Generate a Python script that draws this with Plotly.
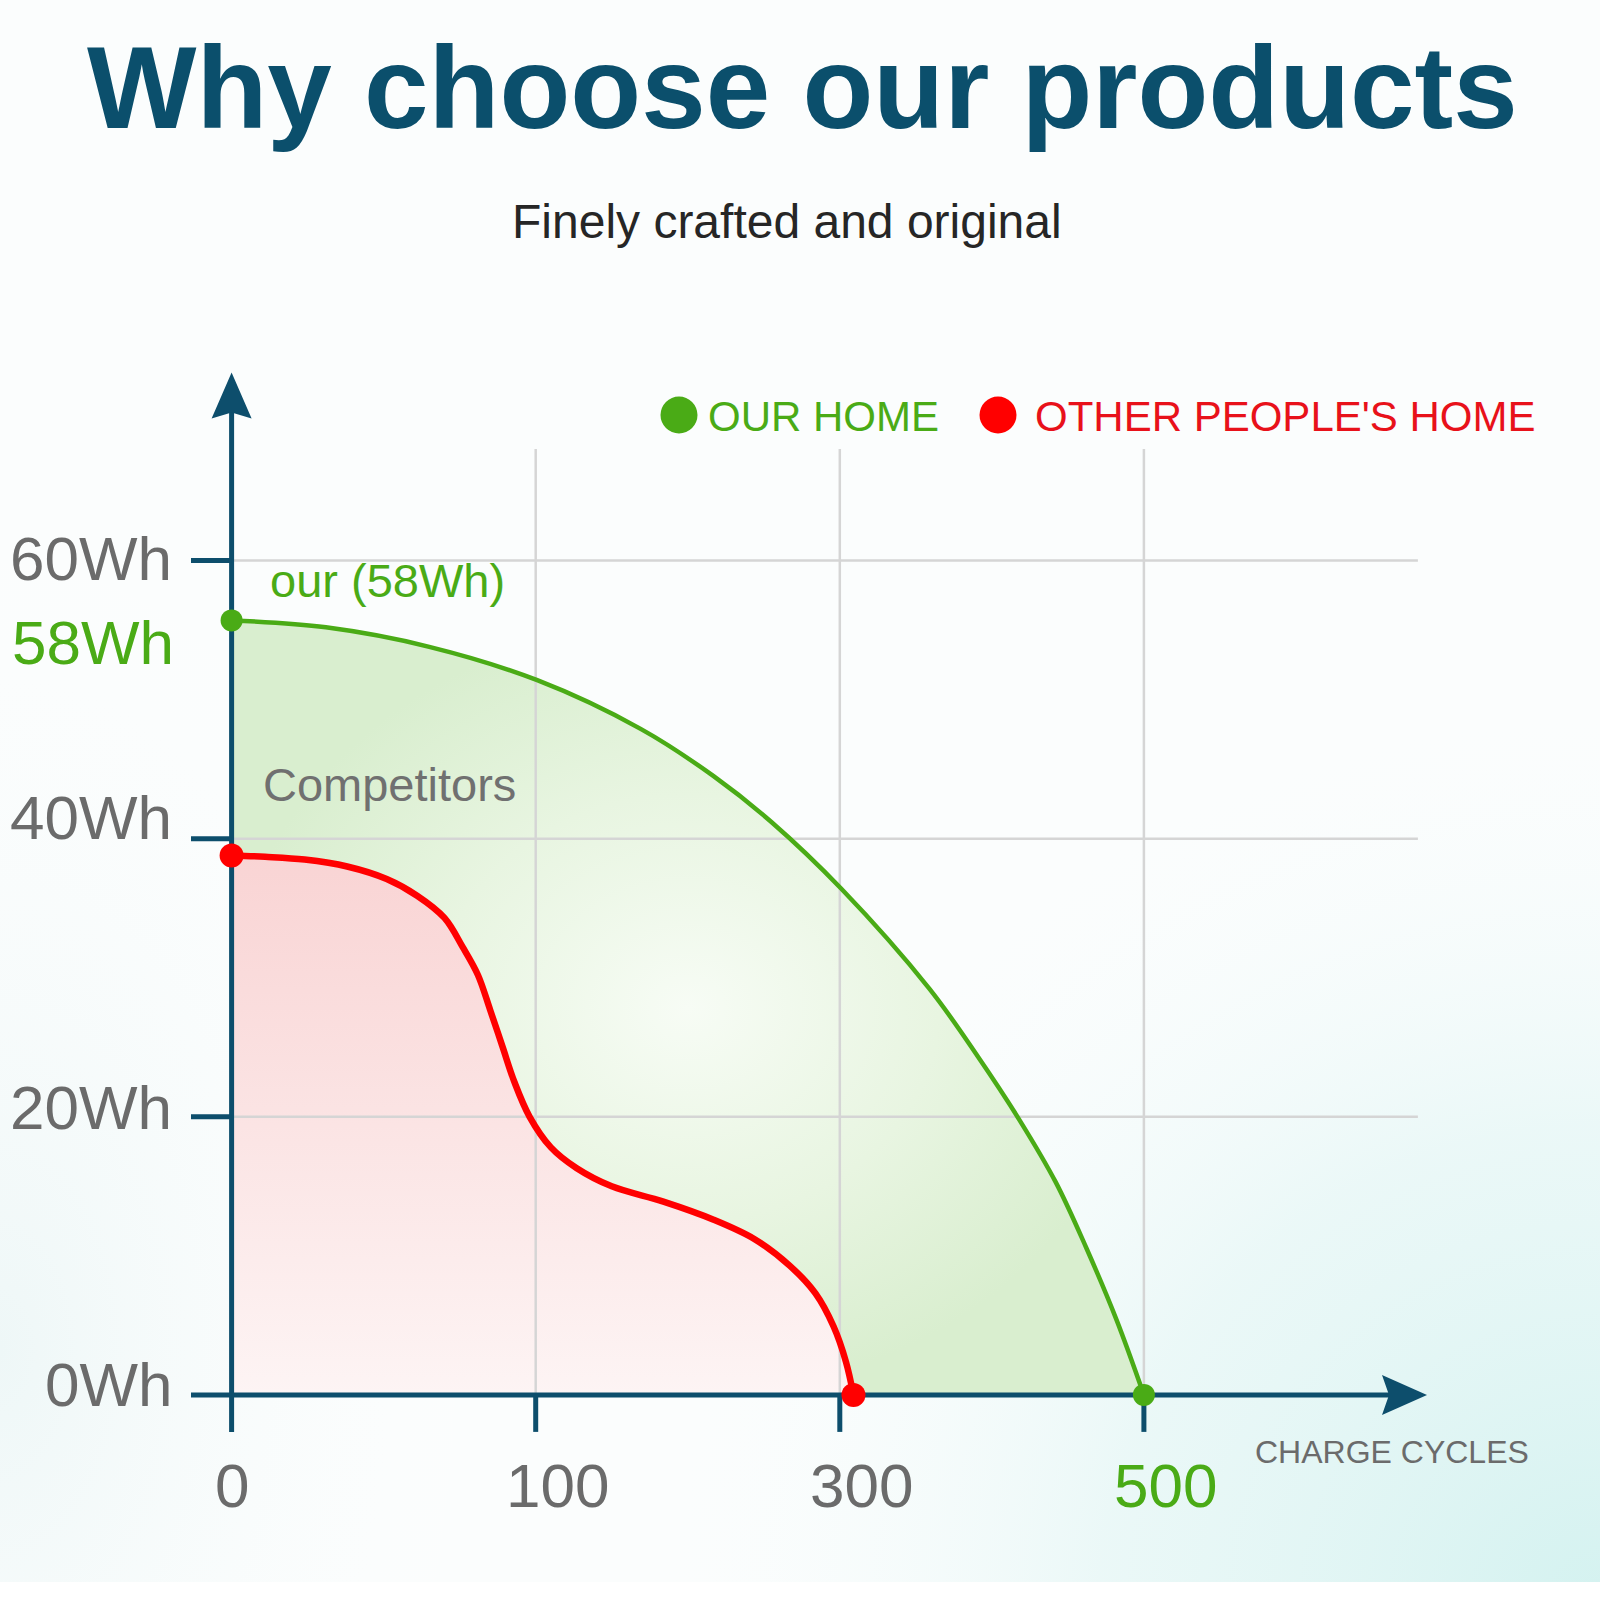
import numpy as np
import plotly.graph_objects as go

# ---------------- data ----------------
tick_cycles = [0, 100, 300, 500]
tick_cycle_labels = ["0", "100", "300", "500"]
wh_ticks = [0, 20, 40, 60]
wh_tick_labels = ["0Wh", "20Wh", "40Wh", "60Wh"]

our_cycles = [0, 31, 65, 101, 169, 217, 255, 301, 359, 391, 418, 442, 462, 482, 500]
our_wh = [55.7, 55.2, 53.8, 51.4, 47.9, 44.5, 41.2, 36.4, 29.2, 24.3, 19.8, 15.3, 10.6, 5.4, 0.0]

other_cycles = [0, 11, 24, 38, 51, 61, 70, 76, 81, 85, 89, 93, 98, 110, 127, 150,
                184, 217, 244, 267, 284, 296, 304, 309]
other_wh = [38.8, 38.7, 38.5, 38.0, 37.1, 35.9, 34.3, 32.2, 30.2, 27.7, 25.1, 22.5, 20.0, 17.8, 16.3, 15.0,
            13.9, 12.6, 11.2, 9.3, 7.3, 4.9, 2.4, 0.0]

# ---------------- geometry (pixel mapping of the page) ----------------
W = H = 1600
X0_PX, X_UNIT = 231.6, 304.1      # pixel of axis origin, pixels per tick slot
Y0_PX, Y_UNIT = 1394.9, 13.905    # pixel of 0Wh, pixels per Wh
xr = [-X0_PX / X_UNIT, (W - X0_PX) / X_UNIT]
yr = [(Y0_PX - H) / Y_UNIT, Y0_PX / Y_UNIT]

# vertical nudges (px) of the y tick labels, per label
YLABEL_SHIFT = {0: 10, 20: 9, 40: 21, 60: 2}


def pos(c):
    """cycles -> slot position on the (non-uniform) category-like x axis"""
    return np.interp(c, tick_cycles, np.arange(len(tick_cycles)))


def dx(p):
    return p / X_UNIT


def dy(p):
    return p / Y_UNIT


def px(x):
    return x / W


def py(y):
    return 1 - y / H


AXIS = "#0d4e6c"
GREEN = "#4aab16"
RED = "#ff0000"
GRID = "#d5d5d5"
GRAY = "#6b6b6b"
FONT = "Liberation Sans, Arial, sans-serif"
SPLINE = dict(shape="spline", smoothing=1.0, simplify=False)

fig = go.Figure()

# background glows
cx, cy = xr[1], yr[0]
hw, hh = dx(1000), dy(950)
fig.add_trace(go.Scatter(
    x=[cx - hw, cx + hw, cx + hw, cx - hw, cx - hw],
    y=[cy - hh, cy - hh, cy + hh, cy + hh, cy - hh],
    mode="none", fill="toself", hoverinfo="skip",
    fillgradient=dict(type="radial",
                      colorscale=[[0, "rgba(212,242,240,1)"], [0.5, "rgba(228,246,245,0.7)"],
                                  [1, "rgba(255,255,255,0)"]]),
))
cx, cy = xr[0], yr[0] + dy(250)
hw, hh = dx(520), dy(900)
fig.add_trace(go.Scatter(
    x=[cx - hw, cx + hw, cx + hw, cx - hw, cx - hw],
    y=[cy - hh, cy - hh, cy + hh, cy + hh, cy - hh],
    mode="none", fill="toself", hoverinfo="skip",
    fillgradient=dict(type="radial",
                      colorscale=[[0, "rgba(238,247,247,1)"], [1, "rgba(255,255,255,0)"]]),
))

# area fills
fig.add_trace(go.Scatter(
    x=pos(our_cycles), y=our_wh, mode="lines",
    line=dict(width=0, color=GREEN, **SPLINE),
    fill="tozeroy", hoverinfo="skip",
    fillgradient=dict(type="radial",
                      colorscale=[[0, "rgba(247,252,245,1)"], [0.55, "rgba(232,245,225,1)"],
                                  [1, "rgba(217,238,207,1)"]]),
))
fig.add_trace(go.Scatter(
    x=pos(other_cycles), y=other_wh, mode="lines",
    line=dict(width=0, color=RED, **SPLINE),
    fill="tozeroy", hoverinfo="skip",
    fillgradient=dict(type="vertical",
                      colorscale=[[0, "rgba(253,244,244,1)"], [1, "rgba(249,212,212,1)"]]),
))

# grid lines
gx, gy = [], []
for v in wh_ticks[1:]:
    gx += [0, pos(tick_cycles[-1]) + dx(274), None]
    gy += [v, v, None]
for c in tick_cycles[1:]:
    gx += [pos(c), pos(c), None]
    gy += [0, dy(Y0_PX - 449), None]
fig.add_trace(go.Scatter(x=gx, y=gy, mode="lines", line=dict(color=GRID, width=2.5),
                         hoverinfo="skip"))

# axes with tick stubs
stub_x, stub_y = dx(40.6), dy(37)
ax_x = [-stub_x, pos(tick_cycles[-1]) + dx(246), None, 0, 0, None]
ax_y = [0, 0, None, -stub_y, dy(Y0_PX - 412), None]
for v in wh_ticks[1:]:
    ax_x += [-stub_x, 0, None]
    ax_y += [v, v, None]
for c in tick_cycles[1:]:
    ax_x += [pos(c), pos(c), None]
    ax_y += [-stub_y, 0, None]
fig.add_trace(go.Scatter(x=ax_x, y=ax_y, mode="lines", line=dict(color=AXIS, width=5),
                         hoverinfo="skip"))
# arrow heads
tipy = dy(Y0_PX - 372.5)
fig.add_trace(go.Scatter(
    x=[0, dx(20), 0, -dx(20), 0],
    y=[tipy, tipy - dy(46), tipy - dy(40), tipy - dy(46), tipy],
    mode="none", fill="toself", fillcolor=AXIS, hoverinfo="skip"))
tipx = dx(1427 - X0_PX)
fig.add_trace(go.Scatter(
    x=[tipx, tipx - dx(45), tipx - dx(38), tipx - dx(45), tipx],
    y=[0, dy(20), 0, -dy(20), 0],
    mode="none", fill="toself", fillcolor=AXIS, hoverinfo="skip"))

# curves
fig.add_trace(go.Scatter(x=pos(our_cycles), y=our_wh, mode="lines",
                         line=dict(width=4.5, color=GREEN, **SPLINE), hoverinfo="skip"))
fig.add_trace(go.Scatter(x=pos(other_cycles), y=other_wh, mode="lines",
                         line=dict(width=6.5, color=RED, **SPLINE), hoverinfo="skip"))
# end points
fig.add_trace(go.Scatter(x=pos([our_cycles[0], our_cycles[-1]]), y=[our_wh[0], our_wh[-1]],
                         mode="markers", marker=dict(size=22, color=GREEN), hoverinfo="skip"))
fig.add_trace(go.Scatter(x=pos([other_cycles[0], other_cycles[-1]]), y=[other_wh[0], other_wh[-1]],
                         mode="markers", marker=dict(size=24, color=RED), hoverinfo="skip"))

ann = []
# title and subtitle
ann.append(dict(text="<b>Why choose our products</b>", x=px(802), y=py(88), xref="paper", yref="paper",
                xanchor="center", yanchor="middle", showarrow=False,
                font=dict(family=FONT, size=116, color="#0b4f6c")))
ann.append(dict(text="Finely crafted and original", x=px(787), y=py(221), xref="paper", yref="paper",
                xanchor="center", yanchor="middle", showarrow=False,
                font=dict(family=FONT, size=48, color="#262626")))
# legend text
ann.append(dict(text="OUR HOME", x=px(706), y=py(416), xref="paper", yref="paper",
                xanchor="left", yanchor="middle", showarrow=False,
                font=dict(family=FONT, size=42, color=GREEN)))
ann.append(dict(text="OTHER PEOPLE'S HOME", x=px(1033), y=py(416), xref="paper", yref="paper",
                xanchor="left", yanchor="middle", showarrow=False,
                font=dict(family=FONT, size=42, color="#e8111a")))
# y tick labels
for v, t in zip(wh_ticks, wh_tick_labels):
    ann.append(dict(text=t, x=px(174), y=v, xref="paper", yref="y", yshift=YLABEL_SHIFT[v],
                    xanchor="right", yanchor="middle", showarrow=False,
                    font=dict(family=FONT, size=62, color=GRAY)))
ann.append(dict(text="58Wh", x=px(176), y=py(642), xref="paper", yref="paper",
                xanchor="right", yanchor="middle", showarrow=False,
                font=dict(family=FONT, size=62, color=GREEN)))
# x tick labels
for c, t in zip(tick_cycles, tick_cycle_labels):
    ann.append(dict(text=t, x=pos(c), y=py(1485), xref="x", yref="paper",
                    xshift=0 if c == 0 else 22,
                    xanchor="center", yanchor="middle", showarrow=False,
                    font=dict(family=FONT, size=62, color=GREEN if c == tick_cycles[-1] else GRAY)))
ann.append(dict(text="CHARGE CYCLES", x=px(1531), y=py(1452), xref="paper", yref="paper",
                xanchor="right", yanchor="middle", showarrow=False,
                font=dict(family=FONT, size=32, color=GRAY)))
# in-chart labels
ann.append(dict(text="our (58Wh)", x=px(268), y=py(581), xref="paper", yref="paper",
                xanchor="left", yanchor="middle", showarrow=False,
                font=dict(family=FONT, size=47, color=GREEN)))
ann.append(dict(text="Competitors", x=px(261), y=py(784), xref="paper", yref="paper",
                xanchor="left", yanchor="middle", showarrow=False,
                font=dict(family=FONT, size=47, color="#707070")))

shapes = [
    dict(type="circle", xref="paper", yref="paper", x0=px(679 - 18.5), x1=px(679 + 18.5),
         y0=py(415 + 18.5), y1=py(415 - 18.5), fillcolor=GREEN, line=dict(width=0)),
    dict(type="circle", xref="paper", yref="paper", x0=px(998 - 18.5), x1=px(998 + 18.5),
         y0=py(415 + 18.5), y1=py(415 - 18.5), fillcolor=RED, line=dict(width=0)),
    dict(type="rect", xref="paper", yref="paper", x0=0, x1=1, y0=0, y1=18 / H,
         fillcolor="white", line=dict(width=0), layer="above"),
]

fig.update_layout(
    width=W, height=H, margin=dict(l=0, r=0, t=0, b=0, pad=0),
    paper_bgcolor="#fbfdfd", plot_bgcolor="rgba(0,0,0,0)",
    showlegend=False,
    xaxis=dict(range=xr, visible=False, fixedrange=True),
    yaxis=dict(range=yr, visible=False, fixedrange=True),
    annotations=ann, shapes=shapes,
    font=dict(family=FONT),
)

fig.write_html("out.html")
